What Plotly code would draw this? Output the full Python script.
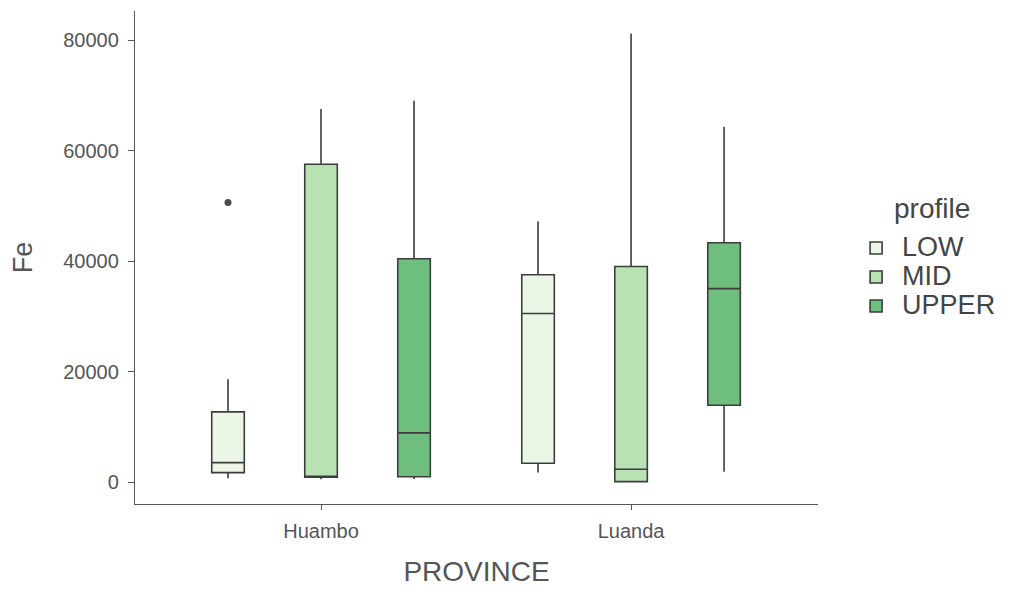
import plotly.graph_objects as go

provinces = ["Huambo", "Luanda"]
profiles = ["LOW", "MID", "UPPER"]

q1 = {"LOW": [1700, 3400], "MID": [850, 60], "UPPER": [950, 13900]}
median = {"LOW": [3500, 30500], "MID": [950, 2300], "UPPER": [8900, 35000]}
q3 = {"LOW": [12700, 37500], "MID": [57500, 39000], "UPPER": [40400, 43300]}
lowerfence = {"LOW": [700, 1700], "MID": [500, 60], "UPPER": [550, 1850]}
upperfence = {"LOW": [18600, 47200], "MID": [67500, 81200], "UPPER": [69000, 64300]}
outliers = {"LOW": [[50600], [47200]]}

fill_colors = {"LOW": "#EBF6E7", "MID": "#B9E2B4", "UPPER": "#6EBF7E"}

FONT = "Liberation Sans, Arial, sans-serif"

fig = go.Figure()
for p in profiles:
    if p in outliers:
        kw = dict(y=outliers[p], boxpoints="outliers", jitter=0, pointpos=0)
    else:
        kw = dict(boxpoints=False)
    fig.add_trace(go.Box(
        name=f"<span style='font-size:27px'>{p}</span>",
        x=provinces,
        q1=q1[p], median=median[p], q3=q3[p],
        lowerfence=lowerfence[p], upperfence=upperfence[p],
        fillcolor=fill_colors[p],
        line=dict(color="#3d3d3d", width=1.6),
        marker=dict(color="#4d4d4d", size=7, line=dict(width=0)),
        whiskerwidth=0,
        offsetgroup=p,
        **kw,
    ))

fig.update_layout(
    width=1010, height=590,
    margin=dict(l=127, r=200, t=3, b=94),
    paper_bgcolor="white", plot_bgcolor="white",
    boxmode="group", boxgap=0.1, boxgroupgap=0.65,
    font=dict(family=FONT, color="#444444"),
    showlegend=True,
    legend=dict(
        font=dict(size=20, color="#444444"),
        x=1.047, xanchor="left", y=0.4604, yanchor="middle",
        itemwidth=42, bgcolor="rgba(0,0,0,0)",
    ),
    annotations=[dict(
        text="profile", xref="paper", yref="paper",
        x=1.167, y=0.600, xanchor="center", yanchor="middle",
        showarrow=False, font=dict(size=28, color="#444444"),
    )],
    xaxis=dict(
        type="category", range=[-0.6, 1.603],
        showline=True, linecolor="#555555", linewidth=1.4,
        ticks="outside", ticklen=5, tickcolor="#555555", tickwidth=1.4,
        showgrid=False, zeroline=False,
        tickfont=dict(size=20, color="#555555"),
        ticklabelstandoff=4,
        title=dict(text="PROVINCE", font=dict(size=28, color="#555555"), standoff=20),
    ),
    yaxis=dict(
        range=[-3982, 85250],
        tickvals=[0, 20000, 40000, 60000, 80000],
        ticktext=["0", "20000", "40000", "60000", "80000"],
        showline=True, linecolor="#555555", linewidth=1.4,
        ticks="outside", ticklen=6, tickcolor="#555555", tickwidth=1.4,
        showgrid=False, zeroline=False,
        tickfont=dict(size=20, color="#555555"),
        ticklabelstandoff=5,
        title=dict(text="Fe", font=dict(size=27, color="#555555"), standoff=26),
    ),
)

fig.write_html("out.html")
